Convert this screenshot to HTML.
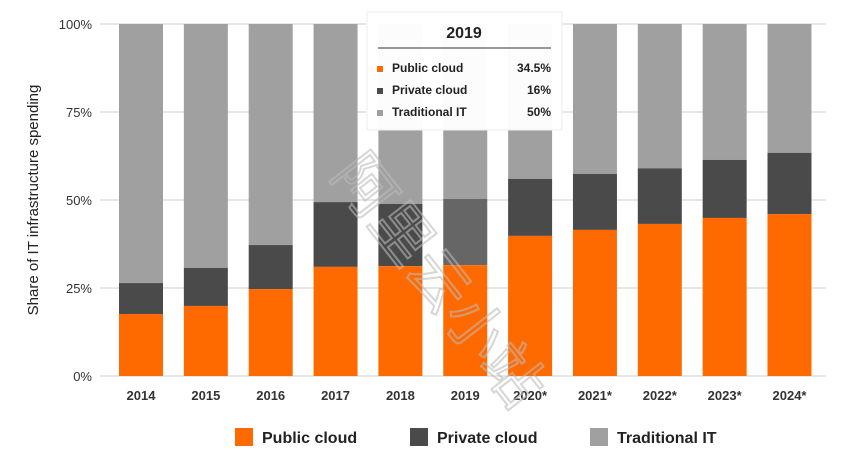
<!DOCTYPE html>
<html><head><meta charset="utf-8"><style>
body{margin:0;background:#fff;font-family:"Liberation Sans","Noto Sans CJK SC",sans-serif}
svg{display:block}
</style></head><body>
<svg id="c" width="846" height="470"></svg>
<script>
const categories=["2014","2015","2016","2017","2018","2019","2020*","2021*","2022*","2023*","2024*"];
const publicCloud=[17.6,19.9,24.7,31,31.2,31.5,39.8,41.5,43.2,44.9,46];
const privateCloud=[8.8,10.8,12.5,18.4,17.7,18.8,16.2,15.9,15.8,16.5,17.4];
const yTicks=[0,25,50,75,100];
const tickLabels=["0%","25%","50%","75%","100%"];
const NS="http://www.w3.org/2000/svg";
const svg=document.getElementById('c');
const y0=376,y1=24;
const yS=v=>y0-(v/100)*(y0-y1);
const xS=i=>141+i*64.85;
const bw=44;
function mk(t,a,p){const e=document.createElementNS(NS,t);for(const k in a)e.setAttribute(k,a[k]);(p||svg).appendChild(e);return e;}
yTicks.forEach((v,i)=>{
 const g=mk('line',{x1:100,x2:826,y1:yS(v),y2:yS(v),stroke:'#ccc','stroke-width':1});
 
 
 const t=mk('text',{x:92,y:yS(v)+5,'text-anchor':'end','font-size':13,fill:'#333'});
 t.textContent=tickLabels[i];
 
 
});
categories.forEach((c,i)=>{
 const x=xS(i)-bw/2,p=publicCloud[i],q=privateCloud[i];
 const r3=mk('rect',{x:x,y:yS(100),width:bw,height:yS(p+q)-yS(100),fill:'#a0a0a0'});
 
 
 const r2=mk('rect',{x:x,y:yS(p+q),width:bw,height:yS(p)-yS(p+q),fill:i==5?'#666':'#4a4a4a'});
 
 
 const r1=mk('rect',{x:x,y:yS(p),width:bw,height:y0-yS(p),fill:'#ff6a00'});
 
 
 const t=mk('text',{x:xS(i),y:400,'text-anchor':'middle','font-size':13,'font-weight':'bold',fill:'#333'});
 t.textContent=c;
 
 
});
</script>
<svg style="position:absolute;left:0;top:0" width="846" height="470">
<text transform="translate(38,200) rotate(-90)" text-anchor="middle" font-size="15" fill="#222">Share of IT infrastructure spending</text>
<text transform="translate(330,175) rotate(52)" font-size="60" fill="none" stroke="#bbb" stroke-width="2" opacity="0.6" font-family="Noto Sans CJK SC,sans-serif">阿里云小站</text>
<g>
<rect x="367" y="12" width="195" height="118" fill="#fff" fill-opacity="0.97" stroke="#eee"/>
<text x="464" y="38" text-anchor="middle" font-size="16" font-weight="bold" fill="#222">2019</text>
<line x1="378" x2="551" y1="48" y2="48" stroke="#777" stroke-width="1.5"/>
<rect x="377" y="66" width="6" height="6" fill="#ff6a00"/><text x="392" y="72" font-size="12" font-weight="bold" fill="#222">Public cloud</text><text x="551" y="72" text-anchor="end" font-size="12" font-weight="bold" fill="#222">34.5%</text>
<rect x="377" y="88" width="6" height="6" fill="#4a4a4a"/><text x="392" y="94" font-size="12" font-weight="bold" fill="#222">Private cloud</text><text x="551" y="94" text-anchor="end" font-size="12" font-weight="bold" fill="#222">16%</text>
<rect x="377" y="110" width="6" height="6" fill="#a0a0a0"/><text x="392" y="116" font-size="12" font-weight="bold" fill="#222">Traditional IT</text><text x="551" y="116" text-anchor="end" font-size="12" font-weight="bold" fill="#222">50%</text>
</g>
<g>
<rect x="235" y="428" width="18" height="18" fill="#ff6a00"/><text x="262" y="443" font-size="16" font-weight="bold" fill="#222">Public cloud</text>
<rect x="410" y="428" width="18" height="18" fill="#4a4a4a"/><text x="437" y="443" font-size="16" font-weight="bold" fill="#222">Private cloud</text>
<rect x="590" y="428" width="18" height="18" fill="#a0a0a0"/><text x="617" y="443" font-size="16" font-weight="bold" fill="#222">Traditional IT</text>
</g>
</svg>
</body></html>
